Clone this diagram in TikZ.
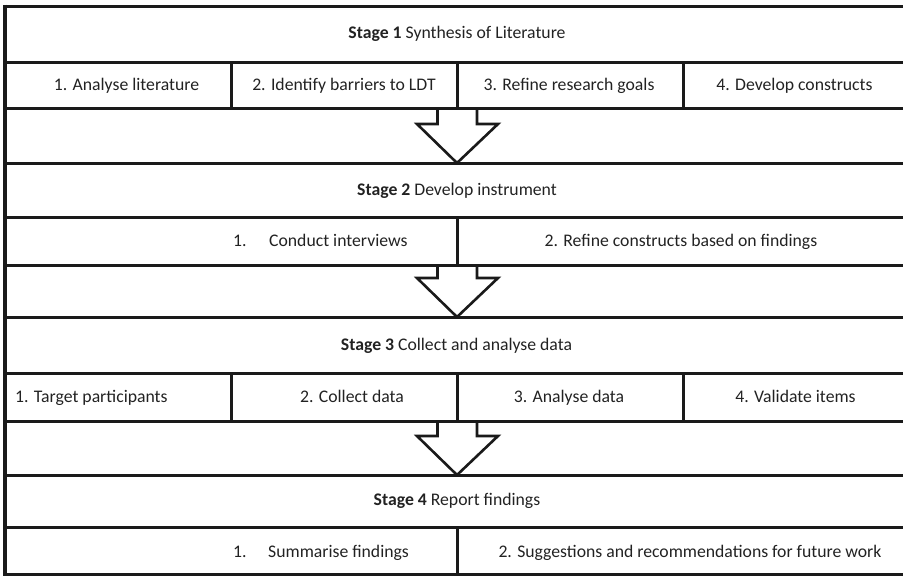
\documentclass[tikz,border=0pt]{standalone}
\usepackage{fontspec}
\setmainfont{Carlito}
\usetikzlibrary{calc}
\definecolor{ink}{HTML}{1A1A1A}
\definecolor{txt}{HTML}{222222}
\begin{document}
\begin{tikzpicture}[x=1pt,y=-1pt,
  rule/.style={draw=ink, line width=3pt},
  outerrule/.style={draw=ink, line width=4.2pt},
  blockarrow/.style={draw=ink, line width=2.6pt, line join=miter},
  lbl/.style={font=\fontsize{17.7}{21}\selectfont, text=txt, inner sep=0pt, anchor=base},
  lblw/.style={lbl, anchor=base west},
]
\useasboundingbox (0,0) rectangle (903,576);

% horizontal rules of the table
\foreach \y in {6,62,108,163,217,265,317,373,421,475,527,574}
  \draw[rule] (5,\y) -- (903,\y);
% left edge
\draw[outerrule] (5,4.5) -- (5,575.5);

% cell dividers
\foreach \x in {231,457,683} {
  \draw[rule] (\x,62) -- (\x,108);
  \draw[rule] (\x,373) -- (\x,421);
}
\draw[rule] (457,217) -- (457,265);
\draw[rule] (457,527) -- (457,574);

% stage 1
\node[lbl] (s1) at (457,38) {\textbf{Stage 1} Synthesis of Literature};
\node[lbl] (s1a) at (126.5,90.7) {1. Analyse literature};
\node[lbl] (s1b) at (344,90.7) {2. Identify barriers to LDT};
\node[lbl] (s1c) at (569,90.7) {3. Refine research goals};
\node[lbl] (s1d) at (794.5,90.7) {4. Develop constructs};

% stage 2
\node[lbl] (s2) at (457,195) {\textbf{Stage 2} Develop instrument};
\node[lblw] (s2a) at (233,246.7) {\makebox[36pt][l]{1.}Conduct interviews};
\node[lbl] (s2b) at (681,246.7) {2. Refine constructs based on findings};

% stage 3
\node[lbl] (s3) at (456.5,350.7) {\textbf{Stage 3} Collect and analyse data};
\node[lblw] (s3a) at (15,402.7) {1. Target participants};
\node[lbl] (s3b) at (352,402.7) {2. Collect data};
\node[lbl] (s3c) at (569,402.7) {3. Analyse data};
\node[lbl] (s3d) at (795.5,402.7) {4. Validate items};

% stage 4
\node[lbl] (s4) at (457,505) {\textbf{Stage 4} Report findings};
\node[lblw] (s4a) at (233,557) {\makebox[35pt][l]{1.}Summarise findings};
\node[lbl] (s4b) at (690,557) {2. Suggestions and recommendations for future work};

% block arrows between stages: tail on the task row, tip on the next stage row
\coordinate (t1) at (457,108); \coordinate (h1) at (457,163);
\coordinate (t2) at (457,265); \coordinate (h2) at (457,317);
\coordinate (t3) at (457,421); \coordinate (h3) at (457,475);
\foreach \t/\h in {t1/h1,t2/h2,t3/h3} {
  \draw[blockarrow]
    ($(\t)+(-19.5,0)$) -- ($(\h)+(-19.5,-39)$) -- ($(\h)+(-40,-39)$)
    -- (\h) -- ($(\h)+(41,-39)$) -- ($(\h)+(20,-39)$) -- ($(\t)+(20,0)$);
}
\end{tikzpicture}
\end{document}
